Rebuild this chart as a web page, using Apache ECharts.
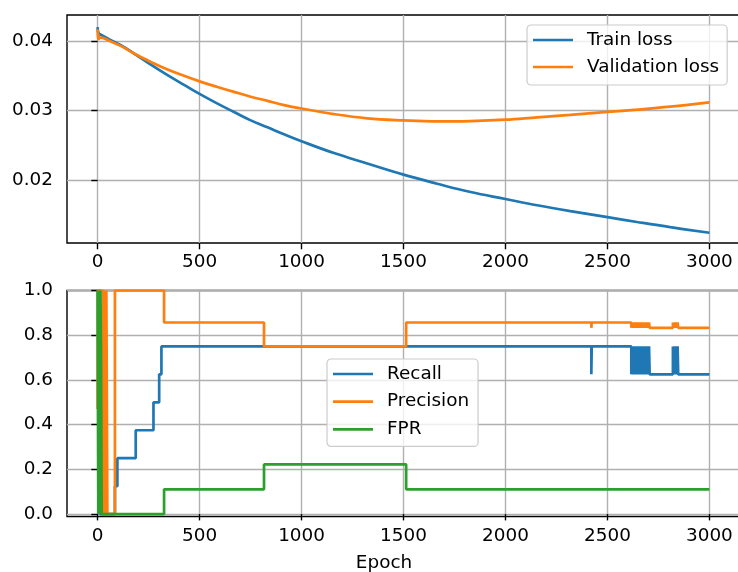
<!DOCTYPE html>
<html><head><meta charset="utf-8">
<script src="https://cdn.jsdelivr.net/npm/echarts@6/dist/echarts.min.js"></script>
<style>html,body{margin:0;padding:0;background:#fff}#c{width:738px;height:572px}</style>
</head><body><div id="c"></div>
<script>
// ---- data ----
const trainEpochs = [0, 5, 16, 60, 114, 179, 261, 343, 424, 500, 588, 669, 751, 833, 914, 1000, 1159, 1322, 1500, 1665, 1829, 2000, 2155, 2318, 2500, 2645, 2808, 3000];
const trainLoss   = [0.0420, 0.0411, 0.0409, 0.0402, 0.0394, 0.0382, 0.0366, 0.0351, 0.0337, 0.0324, 0.0310, 0.0298, 0.0286, 0.0276, 0.0266, 0.0256, 0.0239, 0.0224, 0.0208, 0.0195, 0.0183, 0.0173, 0.0164, 0.01556, 0.0147, 0.0140, 0.01325, 0.01245];
const valEpochs = [0, 2, 4, 6, 10, 16, 60, 114, 179, 261, 343, 424, 500, 588, 669, 751, 833, 914, 1000, 1159, 1322, 1500, 1665, 1829, 2000, 2155, 2318, 2500, 2645, 2808, 3000];
const valLoss   = [0.0417, 0.0403, 0.0410, 0.0403, 0.0405, 0.0405, 0.0400, 0.0393, 0.0382, 0.0370, 0.0359, 0.0350, 0.0342, 0.0334, 0.0327, 0.0320, 0.0314, 0.0308, 0.0303, 0.0295, 0.0289, 0.0286, 0.02845, 0.0285, 0.0287, 0.02904, 0.02938, 0.02981, 0.03014, 0.03057, 0.03119];

const recall = [[0,1],[12,0],[85,0.125],[97,0.25],[187,0.375],[274,0.5],[302,0.625],[313,0.75],
  [2421,0.625],[2423,0.75],
  [2617,0.625],[2620,0.75],[2623,0.625],[2627,0.75],[2630,0.625],[2634,0.75],[2637,0.625],[2641,0.75],[2644,0.625],[2648,0.75],
  [2651,0.625],[2655,0.75],[2658,0.625],[2662,0.75],[2665,0.625],[2669,0.75],[2672,0.625],[2676,0.75],[2679,0.625],[2683,0.75],
  [2686,0.625],[2690,0.75],[2693,0.625],[2697,0.75],[2700,0.625],[2704,0.75],[2707,0.625],
  [2821,0.75],[2825,0.625],[2829,0.75],[2833,0.625],[2837,0.75],[2841,0.625],[2844,0.75],[2847,0.625],[3000,0.625]];
const precision = [[0,0.47],[1,1],[28,0],[33,1],[38,0],[43,1],[48,0],[85,1],[326,0.857],[816,0.75],[1513,0.857],
  [2421,0.833],[2423,0.857],
  [2617,0.833],[2620,0.857],[2623,0.833],[2627,0.857],[2630,0.833],[2634,0.857],[2637,0.833],[2641,0.857],[2644,0.833],[2648,0.857],
  [2651,0.833],[2655,0.857],[2658,0.833],[2662,0.857],[2665,0.833],[2669,0.857],[2672,0.833],[2676,0.857],[2679,0.833],[2683,0.857],
  [2686,0.833],[2690,0.857],[2693,0.833],[2697,0.857],[2700,0.833],[2704,0.857],[2707,0.833],
  [2821,0.857],[2825,0.833],[2829,0.857],[2833,0.833],[2837,0.857],[2841,0.833],[2844,0.857],[2847,0.833],[3000,0.833]];
const fpr = [[0,1],[4,0],[7,1],[11,0],[14,1],[17,0.7],[20,0],[326,0.111],[816,0.222],[1513,0.111],[3000,0.111]];

const xTicks = [0, 500, 1000, 1500, 2000, 2500, 3000];
const lossTicks = [0.02, 0.03, 0.04];
const metricTicks = [0, 0.2, 0.4, 0.6, 0.8, 1.0];
const topLegend = ['Train loss', 'Validation loss'];
const bottomLegend = ['Recall', 'Precision', 'FPR'];

// ---- styling ----
const FONT = 'DejaVu Sans';
const FS = 18.4;
const C = ['#1f77b4', '#ff7f0e', '#2ca02c'];

function xAxis(gridIndex, margin) {
  return {
    type: 'value', gridIndex, min: -150, max: 3150,
    axisLine: { show: false },
    axisTick: { show: true, customValues: xTicks, length: 6.3, lineStyle: { color: '#000', width: 1.4 } },
    axisLabel: { customValues: xTicks, margin, fontFamily: FONT, fontSize: FS, color: '#000',
      formatter: v => String(v) },
    splitLine: { show: true, lineStyle: { color: '#b0b0b0', width: 1.4 } }
  };
}
function yAxis(gridIndex, min, max, ticks, digits) {
  return {
    type: 'value', gridIndex, min, max,
    axisLine: { show: false },
    axisTick: { show: true, customValues: ticks, length: 6.3, lineStyle: { color: '#000', width: 1.4 } },
    axisLabel: { customValues: ticks, margin: 14, fontFamily: FONT, fontSize: FS, color: '#000',
      formatter: v => Number(v).toFixed(digits) },
    splitLine: { show: true, lineStyle: { color: '#b0b0b0', width: 1.4 } }
  };
}
function lineSeries(name, data, color, xi, step, smooth) {
  return {
    type: 'line', name, data, xAxisIndex: xi, yAxisIndex: xi,
    showSymbol: false, symbol: 'none', step: step || false, smooth: smooth || false,
    lineStyle: { color, width: 2.7 }, itemStyle: { color }, animation: false
  };
}
function legend(data, left, top, padding, gap) {
  return {
    data, orient: 'vertical', left, top, padding, itemGap: gap,
    itemWidth: 40, itemHeight: 2.7, icon: 'rect', selectedMode: false,
    backgroundColor: 'rgba(255,255,255,0.8)', borderColor: '#cccccc', borderWidth: 1.2, borderRadius: 4,
    textStyle: { fontFamily: FONT, fontSize: FS, color: '#000', padding: [0, 0, 0, 9], lineHeight: 18 }
  };
}

const chart = echarts.init(document.getElementById('c'), null, { renderer: 'canvas' });
chart.setOption({
  animation: false,
  color: C,
  grid: [
    { left: 67, top: 15, width: 673, height: 228, show: true, borderColor: '#000', borderWidth: 1.4, backgroundColor: 'transparent', outerBoundsMode: 'none' },
    { left: 67, top: 290.5, width: 673, height: 226, show: true, borderColor: '#000', borderWidth: 1.4, backgroundColor: 'transparent', outerBoundsMode: 'none' }
  ],
  xAxis: [xAxis(0, 10), xAxis(1, 11)],
  yAxis: [yAxis(0, 0.01098, 0.04374, lossTicks, 2), yAxis(1, -0.0107, 1.0, metricTicks, 1)],
  legend: [
    legend(topLegend, 527, 25, [6, 8, 9, 6], 9),
    legend(bottomLegend, 327, 359, [6, 9, 8, 6], 9.7)
  ],
  series: [
    lineSeries('Train loss', trainEpochs.map((e, i) => [e, trainLoss[i]]), C[0], 0, false, 0.4),
    lineSeries('Validation loss', valEpochs.map((e, i) => [e, valLoss[i]]), C[1], 0, false, 0.4),
    lineSeries('Recall', recall, C[0], 1, 'end'),
    lineSeries('Precision', precision, C[1], 1, 'end'),
    lineSeries('FPR', fpr, C[2], 1, 'end')
  ],
  graphic: [
    { type: 'text', x: 384, y: 563, style: { text: 'Epoch', align: 'center', verticalAlign: 'middle', fontFamily: FONT, fontSize: FS, fill: '#000' } }
  ]
});
</script>
</body></html>
